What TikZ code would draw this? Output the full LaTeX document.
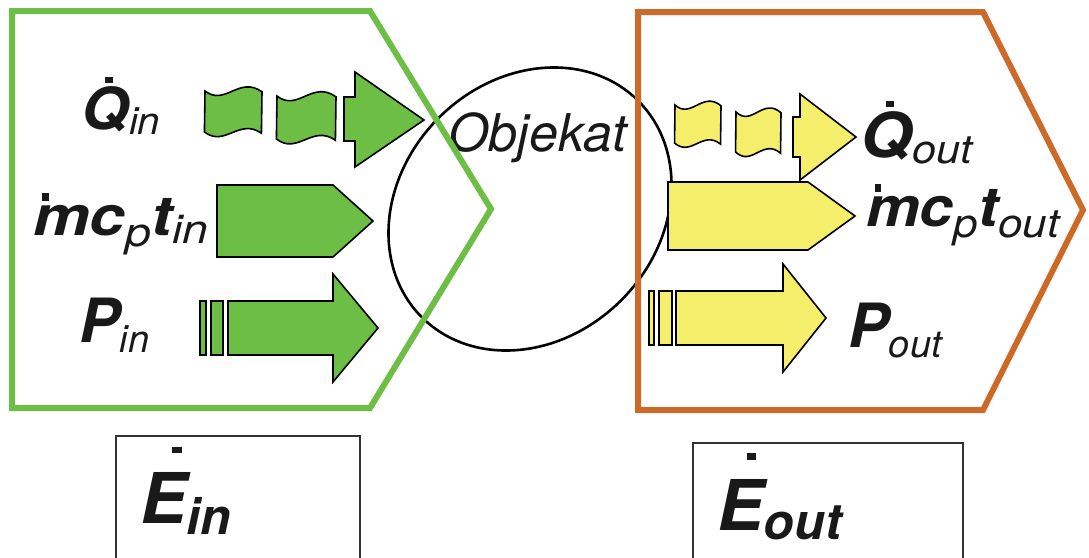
\documentclass[tikz,border=0pt]{standalone}
\usepackage{fontspec}
\setmainfont{TeX Gyre Heros}
\usepackage{graphicx}
\definecolor{gline}{HTML}{6CBE45}
\definecolor{gfill}{HTML}{6CBE45}
\definecolor{yfill}{HTML}{F5EE6A}
\definecolor{oline}{HTML}{CC6A2A}
\definecolor{boxline}{HTML}{333333}
\newcommand\dotacc[4]{\leavevmode\rlap{\hskip#1\raisebox{#2}{\rule{#3}{#4}}}}
\newcommand\lblfont[1]{\fontsize{#1}{#1}\selectfont\bfseries\itshape}
\newcommand\subs[3]{\raisebox{#1}{\fontsize{#2}{#2}\selectfont\mdseries\itshape #3}}
\newcommand\bsubs[3]{\raisebox{#1}{\fontsize{#2}{#2}\selectfont\bfseries\itshape #3}}
\newcommand\hstretch[2]{\scalebox{#1}[1]{#2}}
\tikzset{
  pics/wflag/.style={code={
    \path[pic actions] (0,0) .. controls (0.35,0.38) and (0.6,-0.38) .. (1,0.02)
      -- (0.99,1.03) .. controls (0.6,0.65) and (0.35,1.38) .. (-0.01,1) -- cycle;}},
  flow/.style={draw=black, line width=1.6pt, line join=miter},
  frame/.style={line width=6pt, line join=miter},
  lbl/.style={inner sep=0pt, anchor=base west, text=black!90},
}
\begin{document}
\begin{tikzpicture}[x=1pt,y=-1pt]
\useasboundingbox (0,0) rectangle (1089,557);
% object ellipse
\draw[line width=2.6pt] (530,209) ellipse [x radius=153pt, y radius=129pt, rotate=45];
\node[lbl] (obj) at (448,151) {\fontsize{52}{52}\selectfont\itshape Objekat};
% frames
\draw[frame, draw=gline] (12,11) -- (370,11) -- (491,209) -- (370,408) -- (12,408) -- cycle;
\draw[frame, draw=oline] (638,12) -- (983,12) -- (1083,210) -- (983,410) -- (638,410) -- cycle;
% green flows
\pic[flow, fill=gfill, xscale=57, yscale=41] at (205,91) {wflag};
\pic[flow, fill=gfill, xscale=59, yscale=43] at (277,96) {wflag};
\draw[flow, fill=gfill] (344,97) -- (355,97) -- (355,72) -- (424,120) -- (355,167) -- (355,141) -- (344,141) -- cycle;
\draw[flow, fill=gfill] (217,185) -- (333,185) -- (373,221) -- (333,257) -- (217,257) -- cycle;
\draw[flow, fill=gfill] (200,301) rectangle (206,355);
\draw[flow, fill=gfill] (211,301) rectangle (223,355);
\draw[flow, fill=gfill] (228,301) -- (333,301) -- (333,274) -- (378,328) -- (333,382) -- (333,355) -- (228,355) -- cycle;
% yellow flows
\pic[flow, fill=yfill, xscale=46, yscale=38] at (675,105) {wflag};
\pic[flow, fill=yfill, xscale=45, yscale=40] at (736,112) {wflag};
\draw[flow, fill=yfill] (793,117) -- (800,117) -- (800,94) -- (856,137) -- (800,180) -- (800,157) -- (793,157) -- cycle;
\draw[flow, fill=yfill] (668,182) -- (808,182) -- (855,216) -- (808,250) -- (668,250) -- cycle;
\draw[flow, fill=yfill] (649,291) rectangle (654,345);
\draw[flow, fill=yfill] (659,291) rectangle (672,345);
\draw[flow, fill=yfill] (676,291) -- (783,291) -- (783,264) -- (826,318) -- (783,372) -- (783,345) -- (676,345) -- cycle;
% labels
\node[lbl] (qin) at (81,129) {\hstretch{1.06}{\lblfont{58}\dotacc{0.38em}{0.8em}{0.13em}{0.1em}Q\subs{-0.1em}{38}{in}}};
\node[lbl] (mcin) at (33,235) {\hstretch{1.16}{\lblfont{55}\dotacc{0.14em}{0.62em}{0.11em}{0.14em}mc\subs{-0.2em}{40}{p}t\subs{-0.15em}{40}{in}}};
\node[lbl] (pin) at (79,342) {\lblfont{61}P\subs{-0.18em}{38}{in}};
\node[lbl] (qout) at (860,157) {\hstretch{1.08}{\lblfont{62}\dotacc{0.38em}{0.8em}{0.13em}{0.1em}Q\subs{-0.1em}{40}{out}}};
\node[lbl] (mcout) at (866,226) {\hstretch{1.1}{\lblfont{55}\dotacc{0.14em}{0.62em}{0.11em}{0.14em}mc\subs{-0.2em}{40}{p}t\subs{-0.2em}{40}{out}}};
\node[lbl] (pout) at (848,347) {\lblfont{61}P\subs{-0.18em}{38}{out}};
% energy boxes
\draw[boxline, line width=1.4pt] (116,600) -- (116,436) -- (360,436) -- (360,600);
\draw[boxline, line width=1.4pt] (693,600) -- (693,443) -- (963,443) -- (963,600);
\node[lbl] (ein) at (140,523) {\lblfont{70}\dotacc{0.45em}{1.0em}{0.14em}{0.08em}E\bsubs{-0.17em}{50}{in}};
\node[lbl] (eout) at (717,530) {\lblfont{70}\dotacc{0.42em}{1.0em}{0.14em}{0.1em}E\bsubs{-0.14em}{50}{out}};
\end{tikzpicture}
\end{document}
